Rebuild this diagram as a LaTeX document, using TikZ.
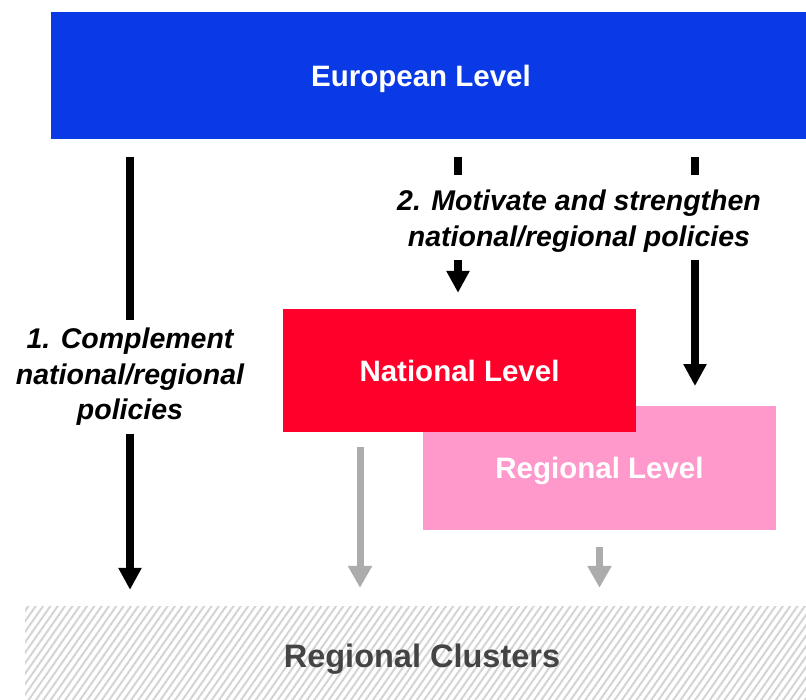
\documentclass[tikz,border=0pt]{standalone}
\usepackage{fontspec}
\setmainfont{Liberation Sans}
\usetikzlibrary{arrows.meta,patterns.meta}

\definecolor{euBlue}{RGB}{10,58,230}
\definecolor{natRed}{RGB}{255,0,42}
\definecolor{regPink}{RGB}{255,153,204}
\definecolor{hatchGray}{RGB}{212,212,212}
\definecolor{clusterText}{RGB}{68,68,68}

\tikzset{
    levelbox/.style={rectangle, inner sep=0pt, text=white,
        font=\fontsize{29.5}{34}\selectfont\bfseries},
    policylabel/.style={align=center, inner xsep=0pt, inner ysep=4pt,
        font=\fontsize{28.5}{35.5}\selectfont\bfseries\itshape},
    mainarrow/.style={line width=8pt, -{Triangle[width=22pt,length=22pt]}},
    mainline/.style={line width=8pt},
    weakarrow/.style={line width=7pt, color=gray!65, -{Triangle[width=23pt,length=22pt]}}
}

\begin{document}
\begin{tikzpicture}[x=1pt, y=-1pt]
    \useasboundingbox (0,0) rectangle (806,699);

    % --- 1. 레벨 상자 ---
    \node[levelbox, fill=euBlue, minimum width=755pt, minimum height=127pt] (eu) at (428.5,75.5) {};
    \node[white, font=\fontsize{29.5}{34}\selectfont\bfseries] at (421,79) {European Level};

    \node[levelbox, fill=regPink, minimum width=353pt, minimum height=124pt, text depth=0pt] (reg) at (599.5,468) {Regional Level};
    \node[levelbox, fill=natRed, minimum width=353pt, minimum height=123pt] (nat) at (459.5,370.5) {National Level};

    % 클러스터 영역 (빗금)
    \fill[pattern={Lines[angle=55, distance=6pt, line width=2pt]}, pattern color=hatchGray]
        (25,606) rectangle (806,699);
    \node[inner sep=0pt, minimum width=781pt, minimum height=93pt, text=clusterText,
        font=\fontsize{32.5}{38}\selectfont\bfseries] (cl) at (415.5,652.5) {};
    \node[text=clusterText, font=\fontsize{32.5}{38}\selectfont\bfseries] at (422,659) {Regional Clusters};

    % --- 2. 라벨 ---
    \node[policylabel] (compl) at (130,377) {1. Complement\\national/regional\\policies};
    \node[policylabel] (motiv) at (579,221) {2. Motivate and strengthen\\national/regional policies};

    % 이음점
    \coordinate (midtop) at (458,157);
    \coordinate (righttop) at (695,157);
    \coordinate (midgap) at (458,175);
    \coordinate (rightgap) at (695,175);
    \coordinate (midlow) at (458,260);
    \coordinate (rightlow) at (695,260);
    \coordinate (rightend) at (695,386);

    % --- 3. 화살표 ---
    % 1. 보완
    \draw[mainline, shorten <=18pt, shorten >=4pt] (eu.south -| compl.north) -- (compl.north);
    \draw[mainarrow, shorten <=4pt, shorten >=16pt] (compl.south) -- (cl.north -| compl.south);

    % 2. 동기 부여
    \draw[mainline] (midtop) -- (midgap);
    \draw[mainline] (righttop) -- (rightgap);
    \draw[mainarrow, shorten >=16pt] (midlow) -- (nat.north -| midlow);
    \draw[mainarrow] (rightlow) -- (rightend);

    % 약한 연결 (회색)
    \draw[weakarrow, shorten <=15pt, shorten >=18pt] (nat.south -| 360,0) -- (cl.north -| 360,0);
    \draw[weakarrow, shorten <=17pt, shorten >=18pt] (reg.south) -- (cl.north -| reg.south);
\end{tikzpicture}
\end{document}
